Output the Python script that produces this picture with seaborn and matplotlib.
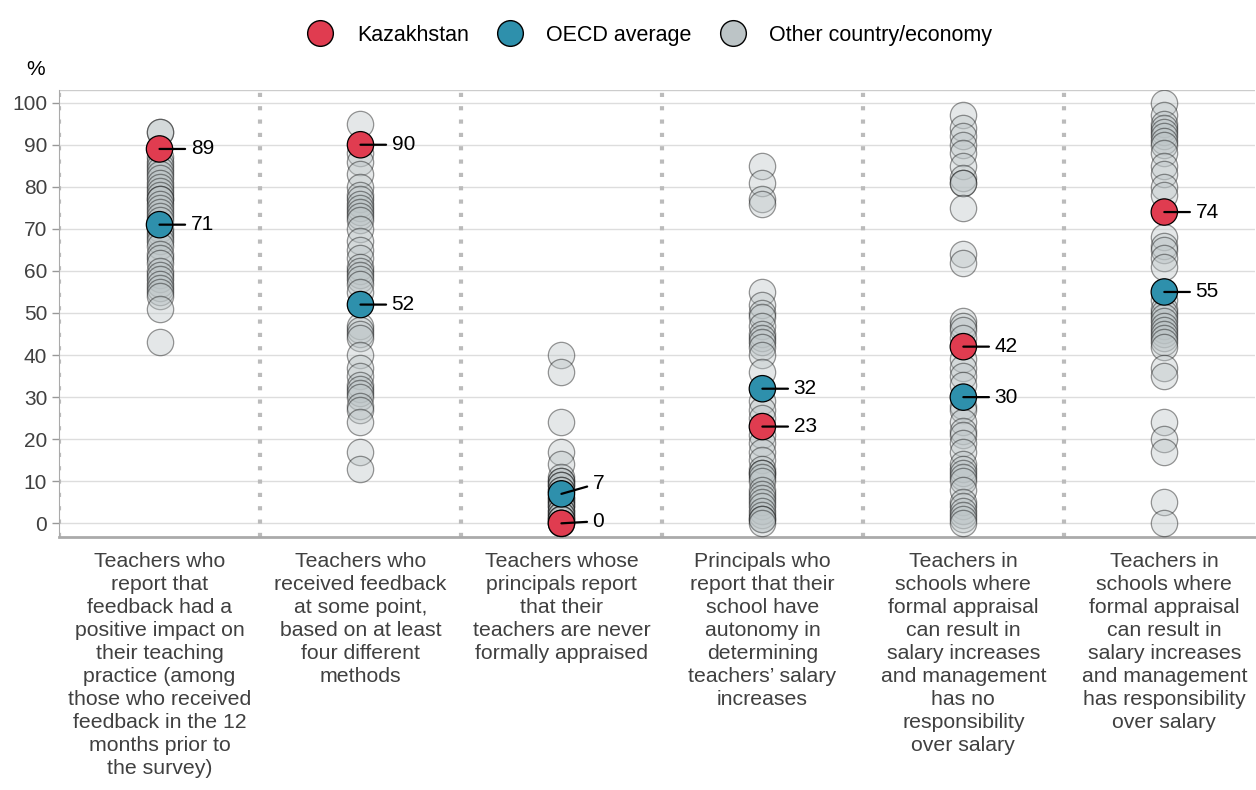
import numpy as np
import pandas as pd
import matplotlib
matplotlib.use('Agg')
import matplotlib.pyplot as plt
import seaborn as sns
from matplotlib.lines import Line2D

# categories (x axis)
categories = [
    "Teachers who\nreport that\nfeedback had a\npositive impact on\ntheir teaching\npractice (among\nthose who received\nfeedback in the 12\nmonths prior to\nthe survey)",
    "Teachers who\nreceived feedback\nat some point,\nbased on at least\nfour different\nmethods",
    "Teachers whose\nprincipals report\nthat their\nteachers are never\nformally appraised",
    "Principals who\nreport that their\nschool have\nautonomy in\ndetermining\nteachers\u2019 salary\nincreases",
    "Teachers in\nschools where\nformal appraisal\ncan result in\nsalary increases\nand management\nhas no\nresponsibility\nover salary",
    "Teachers in\nschools where\nformal appraisal\ncan result in\nsalary increases\nand management\nhas responsibility\nover salary",
]

kazakhstan = [89, 90, 0, 23, 42, 74]
oecd = [71, 52, 7, 32, 30, 55]

# other countries/economies, one list per category
other_1 = [93, 93, 87, 86, 85, 84, 83, 82, 81, 80, 79, 78, 77, 77, 76, 75, 74, 73,
           72, 70, 69, 68, 67, 66, 64, 63, 62, 60, 59, 58, 57, 56, 55, 54, 51, 43]
other_2 = [95, 88, 86, 83, 80, 78, 77, 76, 75, 74, 73, 72, 70, 67, 65, 63, 61, 60,
           59, 58, 57, 55, 47, 46, 45, 44, 40, 37, 35, 33, 32, 31, 30, 28, 27, 24, 17, 13]
other_3 = [40, 36, 24, 17, 14, 11, 10, 10, 9, 9, 8, 8, 6, 6, 5, 5, 4, 4, 3, 3, 2, 2,
           1, 1, 1, 0, 0]
other_4 = [85, 81, 77, 76, 55, 52, 50, 49, 47, 45, 44, 43, 42, 40, 36, 29, 27, 25,
           21, 19, 17, 15, 13, 12, 12, 11, 10, 8, 7, 6, 5, 4, 3, 2, 1, 1, 0]
other_5 = [97, 94, 92, 90, 88, 85, 82, 81, 81, 75, 64, 62, 48, 47, 46, 44, 39, 37,
           35, 33, 28, 27, 24, 22, 21, 19, 17, 14, 13, 12, 11, 10, 8, 5, 4, 3, 2, 1, 0]
other_6 = [100, 97, 95, 94, 93, 92, 91, 90, 88, 85, 83, 80, 78, 68, 66, 65, 63, 61,
           53, 51, 50, 49, 48, 47, 46, 45, 44, 43, 42, 37, 35, 24, 20, 17, 5, 0]
others = [other_1, other_2, other_3, other_4, other_5, other_6]

# label y positions (where they differ from the value, to avoid overlap)
oecd_label_y = [71, 52, 9.5, 32, 30, 55]
kaz_label_y = [89, 90, 0.5, 23, 42, 74]

rows = []
for i, vals in enumerate(others):
    for v in vals:
        rows.append({'x': i, 'y': v, 'group': 'Other country/economy'})
df_other = pd.DataFrame(rows)
df_main = pd.DataFrame({
    'x': list(range(6)) * 2,
    'y': oecd + kazakhstan,
    'group': ['OECD average'] * 6 + ['Kazakhstan'] * 6,
})

c_kaz = '#E03C50'
c_oecd = '#2E90AC'
c_other = '#BCC4C6'

plt.rcParams['font.family'] = ['Liberation Sans', 'DejaVu Sans']
fig = plt.figure(figsize=(12.56, 7.9), dpi=100)
ax = fig.add_axes([0.047, 0.32, 0.952, 0.566])

sns.scatterplot(data=df_other, x='x', y='y', ax=ax, color=c_other, alpha=0.4,
                s=360, edgecolor='black', linewidth=0.9, legend=False, zorder=3)
sns.scatterplot(data=df_main, x='x', y='y', hue='group', ax=ax,
                palette={'OECD average': c_oecd, 'Kazakhstan': c_kaz},
                s=360, edgecolor='black', linewidth=0.9, legend=False, zorder=4)

for i in range(6):
    for v, ly in [(oecd[i], oecd_label_y[i]), (kazakhstan[i], kaz_label_y[i])]:
        ax.annotate(str(v), xy=(i, v), xytext=(i + 0.155, ly), fontsize=15,
                    va='center', ha='left', color='black', zorder=5,
                    arrowprops=dict(arrowstyle='-', color='black', lw=1.6,
                                    shrinkA=2, shrinkB=0))

ax.set_xlim(-0.5, 5.45)
ax.set_ylim(-3.3, 103)
ax.set_yticks(range(0, 101, 10))
ax.set_xticks(range(6))
ax.set_xticklabels(categories, fontsize=15.3, color='#404040', linespacing=1.265)
ax.tick_params(axis='x', length=0, pad=11)
ax.tick_params(axis='y', labelsize=15, labelcolor='#404040', color='#999999',
               length=5, width=1)
ax.set_xlabel('')
ax.set_ylabel('')
ax.grid(axis='y', color='#DDDDDD', lw=1, zorder=0)
ax.set_axisbelow(True)
for x in np.arange(-0.5, 5, 1.0):
    ax.axvline(x, color='#BBBBBB', ls=(0, (1, 2.2)), lw=3, zorder=1)

for side in ['top', 'right']:
    ax.spines[side].set_visible(False)
ax.spines['left'].set_color('#AAAAAA')
ax.spines['bottom'].set_color('#AAAAAA')
ax.spines['bottom'].set_linewidth(2)
ax.axhline(103, color='#CCCCCC', lw=1)

fig.text(0.028, 0.905, '%', fontsize=15, color='black', ha='center')

handles = [Line2D([], [], marker='o', ls='', markersize=18.5, markerfacecolor=c,
                  markeredgecolor='black', markeredgewidth=1) for c in [c_kaz, c_oecd, c_other]]
fig.legend(handles, ['Kazakhstan', 'OECD average', 'Other country/economy'],
           loc='upper center', bbox_to_anchor=(0.514, 0.993), ncol=3, frameon=False,
           fontsize=15.5, handletextpad=0.7, columnspacing=0.9)

fig.savefig('out.png', dpi=100)
